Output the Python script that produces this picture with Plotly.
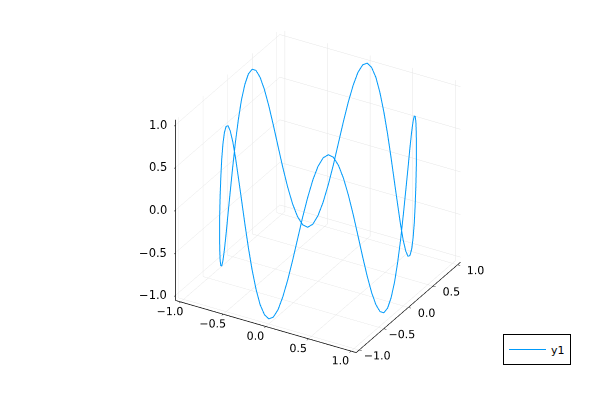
import plotly.graph_objects as go

# curve, point by point
x = [1.0, .999, .995, .988, .978, .966, .951, .934, .914, .891, .866, .839, .809, .777, .743, .707, .669, .629, .588, .545, .5, .454, .407, .358, .309, .259, .208, .156, .105, .052, 0.0,
     -.052, -.105, -.156, -.208, -.259, -.309, -.358, -.407, -.454, -.5, -.545, -.588, -.629, -.669, -.707, -.743, -.777, -.809, -.839, -.866, -.891, -.914, -.934, -.951, -.966, -.978, -.988, -.995, -.999, -1.0,
     -.999, -.995, -.988, -.978, -.966, -.951, -.934, -.914, -.891, -.866, -.839, -.809, -.777, -.743, -.707, -.669, -.629, -.588, -.545, -.5, -.454, -.407, -.358, -.309, -.259, -.208, -.156, -.105, -.052, 0.0,
     .052, .105, .156, .208, .259, .309, .358, .407, .454, .5, .545, .588, .629, .669, .707, .743, .777, .809, .839, .866, .891, .914, .934, .951, .966, .978, .988, .995, .999, 1.0]
y = [0.0, .052, .105, .156, .208, .259, .309, .358, .407, .454, .5, .545, .588, .629, .669, .707, .743, .777, .809, .839, .866, .891, .914, .934, .951, .966, .978, .988, .995, .999, 1.0,
     .999, .995, .988, .978, .966, .951, .934, .914, .891, .866, .839, .809, .777, .743, .707, .669, .629, .588, .545, .5, .454, .407, .358, .309, .259, .208, .156, .105, .052, 0.0,
     -.052, -.105, -.156, -.208, -.259, -.309, -.358, -.407, -.454, -.5, -.545, -.588, -.629, -.669, -.707, -.743, -.777, -.809, -.839, -.866, -.891, -.914, -.934, -.951, -.966, -.978, -.988, -.995, -.999, -1.0,
     -.999, -.995, -.988, -.978, -.966, -.951, -.934, -.914, -.891, -.866, -.839, -.809, -.777, -.743, -.707, -.669, -.629, -.588, -.545, -.5, -.454, -.407, -.358, -.309, -.259, -.208, -.156, -.105, -.052, 0.0]
z = [0.0, .259, .5, .707, .866, .966, 1.0, .966, .866, .707, .5, .259, 0.0, -.259, -.5, -.707, -.866, -.966, -1.0, -.966, -.866, -.707, -.5, -.259,
     0.0, .259, .5, .707, .866, .966, 1.0, .966, .866, .707, .5, .259, 0.0, -.259, -.5, -.707, -.866, -.966, -1.0, -.966, -.866, -.707, -.5, -.259,
     0.0, .259, .5, .707, .866, .966, 1.0, .966, .866, .707, .5, .259, 0.0, -.259, -.5, -.707, -.866, -.966, -1.0, -.966, -.866, -.707, -.5, -.259,
     0.0, .259, .5, .707, .866, .966, 1.0, .966, .866, .707, .5, .259, 0.0, -.259, -.5, -.707, -.866, -.966, -1.0, -.966, -.866, -.707, -.5, -.259,
     0.0, .259, .5, .707, .866, .966, 1.0, .966, .866, .707, .5, .259, 0.0, -.259, -.5, -.707, -.866, -.966, -1.0, -.966, -.866, -.707, -.5, -.259, 0.0]
tick_vals = [-1.0, -0.5, 0.0, 0.5, 1.0]
z_tick_labels = ['\u22121.0', '\u22120.5', '0.0', '0.5', '1.0']
axis_limit = 1.06
font_name = 'DejaVu Sans'

fig = go.Figure()
fig.add_trace(go.Scatter3d(
    x=x, y=y, z=z,
    mode='lines',
    name='y1',
    showlegend=False,
    line=dict(color='#009AFA', width=2),
))
# thinner line just for the legend key
fig.add_trace(go.Scatter3d(
    x=[None], y=[None], z=[None],
    mode='lines',
    name='y1',
    showlegend=True,
    line=dict(color='#009AFA', width=1),
))

axis_style = dict(
    range=[-axis_limit, axis_limit],
    tickvals=tick_vals,
    tickformat='.1f',
    tickangle=0,
    tickfont=dict(family=font_name, size=11.5, color='black'),
    title=dict(text=''),
    showbackground=False,
    showgrid=True,
    gridcolor='rgba(0,0,0,0.1)',
    gridwidth=1,
    zeroline=False,
    showline=True,
    linecolor='black',
    linewidth=1.5,
    ticks='inside',
    ticklen=3,
    tickcolor='black',
    showspikes=False,
)

# z labels go on as annotations, the automatic ones sit too low
z_annotations = [
    dict(
        x=-axis_limit, y=-axis_limit, z=val,
        text=label,
        showarrow=False,
        xanchor='right',
        xshift=-7,
        font=dict(family=font_name, size=11.5, color='black'),
    )
    for val, label in zip(tick_vals, z_tick_labels)
]

eye_r = 1.55
fig.update_layout(
    width=600,
    height=400,
    margin=dict(l=0, r=0, t=0, b=0),
    paper_bgcolor='white',
    showlegend=True,
    legend=dict(
        x=563 / 600, y=1 - 326 / 400,
        xanchor='right', yanchor='top',
        bordercolor='black', borderwidth=1,
        bgcolor='white',
        itemwidth=37,
        font=dict(family=font_name, size=11, color='black'),
    ),
    scene=dict(
        domain=dict(x=[0.034, 1.0], y=[0.085, 1.0]),
        xaxis=axis_style,
        yaxis=axis_style,
        zaxis=dict(axis_style, showticklabels=False),
        aspectmode='manual',
        aspectratio=dict(x=1.14, y=1.14, z=1.14),
        annotations=z_annotations,
        camera=dict(
            eye=dict(x=0.433 * eye_r, y=-0.75 * eye_r, z=0.5 * eye_r),
            up=dict(x=0, y=0, z=1),
            center=dict(x=0, y=0, z=0),
            projection=dict(type='orthographic'),
        ),
    ),
)

fig.write_html("out.html")
